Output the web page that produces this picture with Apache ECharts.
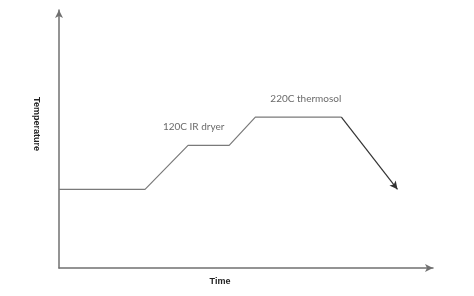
<!DOCTYPE html>
<html><head><meta charset="utf-8">
<script src="https://cdn.jsdelivr.net/npm/echarts@6/dist/echarts.min.js"></script>
<style>html,body{margin:0;padding:0;background:#fff}#c{width:474px;height:296px}</style>
</head><body><div id="c"></div>
<script>
// Process profile (relative units: time 0-100, temperature 0-100)
const times = [0, 23, 34.5, 45.5, 52.5, 75.5];
const temps = [30.5, 30.5, 47.5, 47.5, 58.5, 58.5];
const coolEnd = [90.5, 30.5];
const labelTexts = ['120C IR dryer', '220C thermosol'];
const labelX = [36, 66];
const labelY = [54.8, 65.7];
const xName = 'Time';
const yName = 'Temperature';

const chart = echarts.init(document.getElementById('c'), null, {renderer: 'canvas'});
const axisCommon = {
  type: 'value', min: 0, max: 100, splitLine: {show: false}, axisTick: {show: false}, axisLabel: {show: false},
  axisLine: {show: true, symbol: ['none', 'arrow'], symbolSize: [6, 8], lineStyle: {color: '#707070', width: 1.5}},
  nameLocation: 'middle',
  nameTextStyle: {fontFamily: 'Liberation Sans', fontWeight: 'bold', fontSize: 9, color: '#222'}
};
chart.setOption({
  animation: false,
  grid: {left: 59, right: 41, top: 10, bottom: 28},
  xAxis: Object.assign({}, axisCommon, {name: xName, nameGap: 9,
    nameTextStyle: Object.assign({}, axisCommon.nameTextStyle, {padding: [0, 52, 0, 0]})}),
  yAxis: Object.assign({}, axisCommon, {name: yName, nameGap: 18, nameRotate: -90,
    nameTextStyle: Object.assign({}, axisCommon.nameTextStyle, {padding: [0, 30, 0, 0]})}),
  series: [
    {
      type: 'line', data: times.map((t, i) => [t, temps[i]]), symbol: 'none',
      lineStyle: {color: '#7a7a7a', width: 1.2},
      markLine: {
        silent: true, symbol: ['none', 'arrow'], symbolSize: [6, 8],
        lineStyle: {color: '#333', width: 1.2, type: 'solid'}, label: {show: false},
        data: [[{coord: [times[times.length - 1], temps[temps.length - 1]]}, {coord: coolEnd}]]
      }
    },
    {
      type: 'scatter', symbolSize: 0,
      data: labelTexts.map((s, i) => ({value: [labelX[i], labelY[i]], name: s})),
      label: {show: true, position: 'inside', formatter: p => p.name,
        fontFamily: 'Lato', fontSize: 10, color: '#444'}
    }
  ]
});
</script></body></html>
